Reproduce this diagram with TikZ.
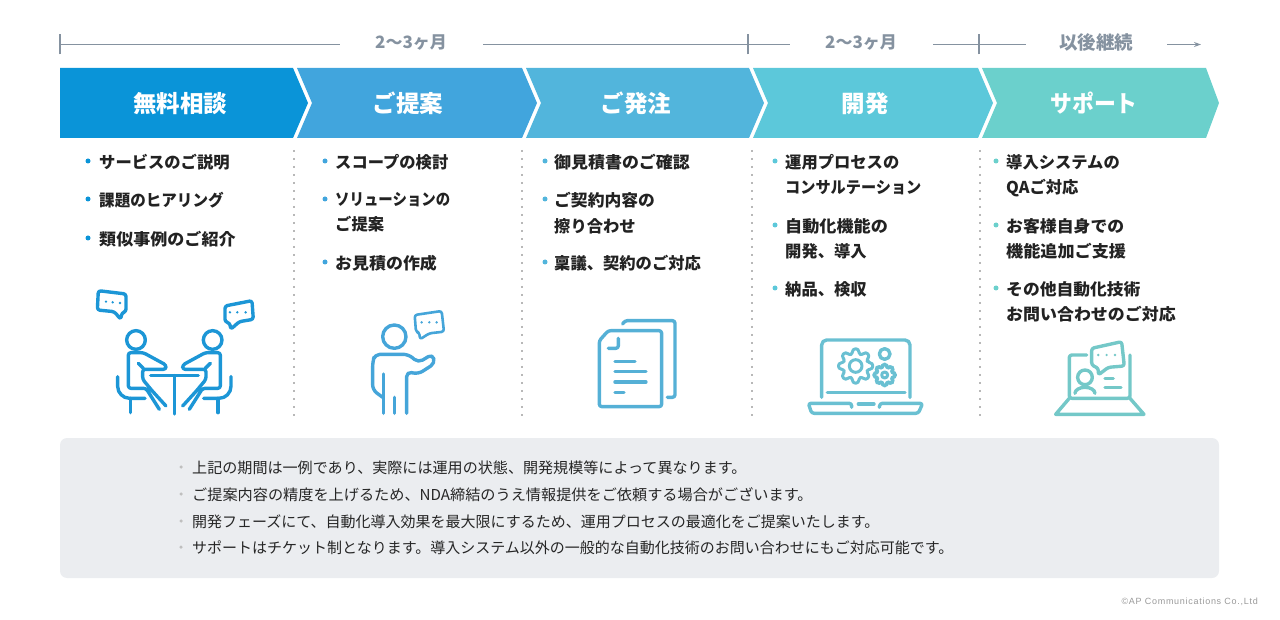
\documentclass[tikz,border=0pt]{standalone}
\usepackage{fontspec}
\usepackage{graphicx}
\setmainfont{Noto Sans CJK JP}
\newfontfamily\latinfont{Liberation Sans}
\usetikzlibrary{arrows.meta}
\definecolor{chA}{HTML}{0A94D8}\definecolor{chB}{HTML}{41A5DD}\definecolor{chC}{HTML}{52B5DC}\definecolor{chD}{HTML}{5CC8DA}\definecolor{chE}{HTML}{6BD0CC}
\definecolor{icA}{HTML}{1C96D6}\definecolor{icB}{HTML}{45A5D9}\definecolor{icC}{HTML}{55B0D6}\definecolor{icD}{HTML}{6AC0D2}\definecolor{icE}{HTML}{74C8C8}
\definecolor{tl}{HTML}{8592A0}\definecolor{pan}{HTML}{EBEDF0}\definecolor{dk}{HTML}{222222}
\newcommand{\sx}[2]{\scalebox{#1}[1]{#2}}
\tikzset{
  tltext/.style={text=tl,font=\fontsize{17}{20}\selectfont\bfseries,inner sep=0pt},
  tlline/.style={draw=tl,line width=1.3pt},
  head/.style={text=white,font=\fontsize{23.5}{27}\selectfont\bfseries,inner sep=0pt},
  itemtxt/.style={anchor=north west,align=left,text=dk,inner sep=0pt,font=\fontsize{16.3}{25.5}\selectfont\bfseries},
  bul/.style={circle,inner sep=0pt,minimum size=5pt,fill=#1},
  sep/.style={draw=black!28,line width=1.8pt,dash pattern=on 1.6pt off 6.4pt},
  note/.style={anchor=west,text=black!85,inner sep=0pt,font=\fontsize{15}{18}\selectfont},
  nbul/.style={circle,inner sep=0pt,minimum size=3.5pt,fill=black!25},
  ic/.style={line width=3.4pt,line cap=round,line join=round,rounded corners=2.5pt},
  zoomed/.style={x=0.3333pt,y=-0.3333pt}
}
\newcommand{\threedots}[3]{\foreach \p in {#1,#2,#3}{\fill \p circle (4);}}
\newcommand{\gearshape}[5]{% cx cy rin rout inner
 \begin{scope}[shift={(#1,#2)}]
 \draw (-14:#3) \foreach \a in {0,45,...,315}{ -- (\a-14:#3) -- (\a-10:#4) -- (\a+10:#4) -- (\a+14:#3)} -- cycle;
 \draw (0,0) circle (#5);
 \end{scope}}
\begin{document}
\begin{tikzpicture}[x=1pt,y=-1pt]
\useasboundingbox (0,0) rectangle (1280,620);
% timeline
\node[tltext] (tA) at (411,42.5) {2〜3ヶ月};
\node[tltext] (tB) at (861,42.5) {2〜3ヶ月};
\node[tltext,font=\fontsize{18.5}{20}\selectfont\bfseries] (tC) at (1096,42.5) {以後継続};
\coordinate (t0) at (60,44.5);\coordinate (t1) at (748,44.5);\coordinate (t2) at (979,44.5);\coordinate (t3) at (1201,44.5);
\draw[tlline] (t0) -- (340,44.5);
\draw[tlline] (483,44.5) -- (t1) -- (790,44.5);
\draw[tlline] (933,44.5) -- (t2) -- (1026,44.5);
\draw[tlline,-{Stealth[length=7pt,width=5pt]}] (1167,44.5) -- (t3);
\foreach \t in {t0,t1,t2}{\draw[tlline] ([yshift=-10pt]\t) -- ([yshift=10pt]\t);}
% chevrons
\fill[chA] (60,68) -- (293,68) -- (308,103) -- (293,138) -- (60,138) -- cycle;
\fill[chB] (297,68) -- (522,68) -- (537,103) -- (522,138) -- (297,138) -- (312,103) -- cycle;
\fill[chC] (526,68) -- (749,68) -- (764,103) -- (749,138) -- (526,138) -- (541,103) -- cycle;
\fill[chD] (753,68) -- (978,68) -- (993,103) -- (978,138) -- (753,138) -- (768,103) -- cycle;
\fill[chE] (982,68) -- (1206,68) -- (1219,103) -- (1206,138) -- (982,138) -- (997,103) -- cycle;
\node[head] (hA) at (180,103.5) {無料相談};
\node[head] (hB) at (408,103.5) {ご提案};
\node[head] (hC) at (636,103.5) {ご発注};
\node[head] (hD) at (865,103.5) {開発};
\node[head] (hE) at (1094,103.5) {\sx{0.93}{サポート}};
% separators
\foreach \x in {294,522,752,980}{\draw[sep] (\x,150) -- (\x,418);}
% column 1
\foreach \y in {161,199,238}{\node[bul=chA] at (88,\y) {};}
\node[itemtxt] (a1) at (99,154) {サービスのご説明};
\node[itemtxt] (a2) at (99,192) {\sx{0.954}{課題のヒアリング}};
\node[itemtxt] (a3) at (99,231) {\sx{1.046}{類似事例のご紹介}};
% column 2
\foreach \y in {161,199,262}{\node[bul=chB] at (325,\y) {};}
\node[itemtxt] (b1) at (335,154) {スコープの検討};
\node[itemtxt] (b2) at (335,192) {\sx{0.885}{ソリューションの}\\ご提案};
\node[itemtxt] (b3) at (335,255) {\sx{1.04}{お見積の作成}};
% column 3
\foreach \y in {161,199,262}{\node[bul=chC] at (545,\y) {};}
\node[itemtxt] (c1) at (554,154) {\sx{1.04}{御見積書のご確認}};
\node[itemtxt] (c2) at (554,192) {\sx{1.03}{ご契約内容の}\\擦り合わせ};
\node[itemtxt] (c3) at (554,255) {稟議、契約のご対応};
% column 4
\foreach \y in {161,225,288}{\node[bul=chD] at (775,\y) {};}
\node[itemtxt] (d1) at (785,154) {運用プロセスの\\\sx{0.93}{コンサルテーション}};
\node[itemtxt] (d2) at (785,218) {\sx{1.05}{自動化機能の}\\開発、導入};
\node[itemtxt] (d3) at (785,281) {納品、検収};
% column 5
\foreach \y in {161,225,288}{\node[bul=chE] at (996,\y) {};}
\node[itemtxt] (e1) at (1006,154) {導入システムの\\QAご対応};
\node[itemtxt] (e2) at (1006,218) {\sx{1.035}{お客様自身での}\\\sx{1.05}{機能追加ご支援}};
\node[itemtxt] (e3) at (1006,281) {\sx{1.03}{その他自動化技術}\\\sx{1.04}{お問い合わせのご対応}};
% icon 1
\begin{scope}[shift={(80,280)},zoomed,draw=icA,fill=icA]
 \begin{scope}[ic]
 \draw (55,32) -- (138,42) -- (138,95) -- (126,98) -- (122,118) -- (103,95) -- (52,90) -- cycle;
 \draw (435,78) -- (516,62) -- (520,118) -- (478,125) -- (452,148) -- (450,130) -- (435,125) -- cycle;
 \draw (168,180) circle (28);
 \draw (398,180) circle (28);
 \draw (238,388) -- (198,325) -- (145,325) -- (145,218) -- (190,218) -- (258,255) -- (258,268) -- (188,268) -- (188,298) -- (216,332) -- (258,378);
 \draw (175,250) -- (190,265);
 \draw (328,388) -- (368,325) -- (421,325) -- (421,218) -- (376,218) -- (308,255) -- (308,268) -- (378,268) -- (378,298) -- (350,332) -- (308,378);
 \draw (391,250) -- (376,265);
 \draw[rounded corners=12pt] (113,290) -- (113,355) -- (195,355);
 \draw (152,355) -- (152,398);
 \draw[rounded corners=12pt] (453,290) -- (453,355) -- (371,355);
 \draw (414,355) -- (414,398);
 \draw (212,287) -- (355,287);
 \draw (283,287) -- (283,402);
 \end{scope}
 \threedots{(78,65)}{(98,67)}{(120,69)}
 \threedots{(450,97)}{(472,97)}{(497,97)}
\end{scope}
% icon 2
\begin{scope}[shift={(340,300)},zoomed,draw=icB,fill=icB]
 \begin{scope}[ic]
 \draw[line width=2.6pt] (224,45) -- (305,33) -- (312,95) -- (268,100) -- (240,118) -- (238,98) -- (228,95) -- cycle;
 \draw (163,110) circle (35);
 \draw[rounded corners=5pt] (200,340) -- (200,215) -- (235,222) -- (285,190) -- (278,162) -- (235,188) -- (205,163) -- (105,163) -- (98,185) -- (98,270) -- (128,292);
 \draw (130,222) -- (130,340);
 \draw (163,292) -- (163,340);
 \end{scope}
 \threedots{(245,67)}{(268,67)}{(290,67)}
\end{scope}
% icon 3
\begin{scope}[shift={(340,300)},zoomed,draw=icC]
 \begin{scope}[ic]
 \draw (848,72) -- (855,62) -- (1005,62) -- (1005,292) -- (982,292);
 \draw (805,92) -- (965,92) -- (965,320) -- (778,320) -- (778,122) -- cycle;
 \draw (835,115) -- (835,145) -- (805,145);
 \draw (825,185) -- (885,185);
 \draw (825,215) -- (918,215);
 \draw (825,246) -- (918,246);
 \draw (825,277) -- (852,277);
 \end{scope}
\end{scope}
% icon 4
\begin{scope}[shift={(790,330)},zoomed,draw=icD]
 \begin{scope}[ic]
 \draw[rounded corners=5pt] (95,202) -- (95,30) -- (360,30) -- (360,202);
 \draw (112,188) -- (345,188);
 \draw (185,232) -- (185,220) -- (55,220) -- (65,250) -- (385,250) -- (398,220) -- (270,220) -- (268,232);
 \draw (205,222) -- (252,222);
 \draw (284,72) circle (16);
 \begin{scope}[line width=3pt]
 \gearshape{197}{108}{38}{52}{19}
 \gearshape{284}{135}{24}{33}{9}
 \end{scope}
 \end{scope}
\end{scope}
% icon 5
\begin{scope}[shift={(790,330)},zoomed,draw=icE,fill=icE]
 \begin{scope}[ic]
 \draw (890,75) -- (838,75) -- (838,205) -- (1020,205) -- (1020,75);
 \draw[rounded corners=0pt] (838,205) -- (797,253) -- (1062,253) -- (1020,205);
 \draw (905,55) -- (995,35) -- (1003,108) -- (955,112) -- (925,135) -- (925,115) -- (905,105) -- cycle;
 \draw (885,142) circle (22);
 \draw (855,190) arc[start angle=180,end angle=360,x radius=30,y radius=18];
 \draw (945,145) -- (970,145);
 \draw (945,172) -- (993,172);
 \end{scope}
 \threedots{(925,75)}{(950,75)}{(975,75)}
\end{scope}
% note panel
\fill[pan,rounded corners=7pt] (60,438) rectangle (1219,578);
\foreach \y in {467,494,521,547}{\node[nbul] at (181,\y) {};}
\node[note] (n1) at (192,467.5) {\sx{1.005}{上記の期間は一例であり、実際には運用の状態、開発規模等によって異なります。}};
\node[note] (n2) at (192,494.5) {\sx{1.011}{ご提案内容の精度を上げるため、NDA締結のうえ情報提供をご依頼する場合がございます。}};
\node[note] (n3) at (192,521.5) {開発フェーズにて、自動化導入効果を最大限にするため、運用プロセスの最適化をご提案いたします。};
\node[note] (n4) at (192,547.5) {サポートはチケット制となります。導入システム以外の一般的な自動化技術のお問い合わせにもご対応可能です。};
\node[anchor=east,inner sep=0pt,text=black!40,font=\fontsize{9}{11}\selectfont\latinfont\addfontfeatures{LetterSpace=8}] (cr) at (1258,602) {©AP Communications Co.,Ltd};
\end{tikzpicture}
\end{document}
